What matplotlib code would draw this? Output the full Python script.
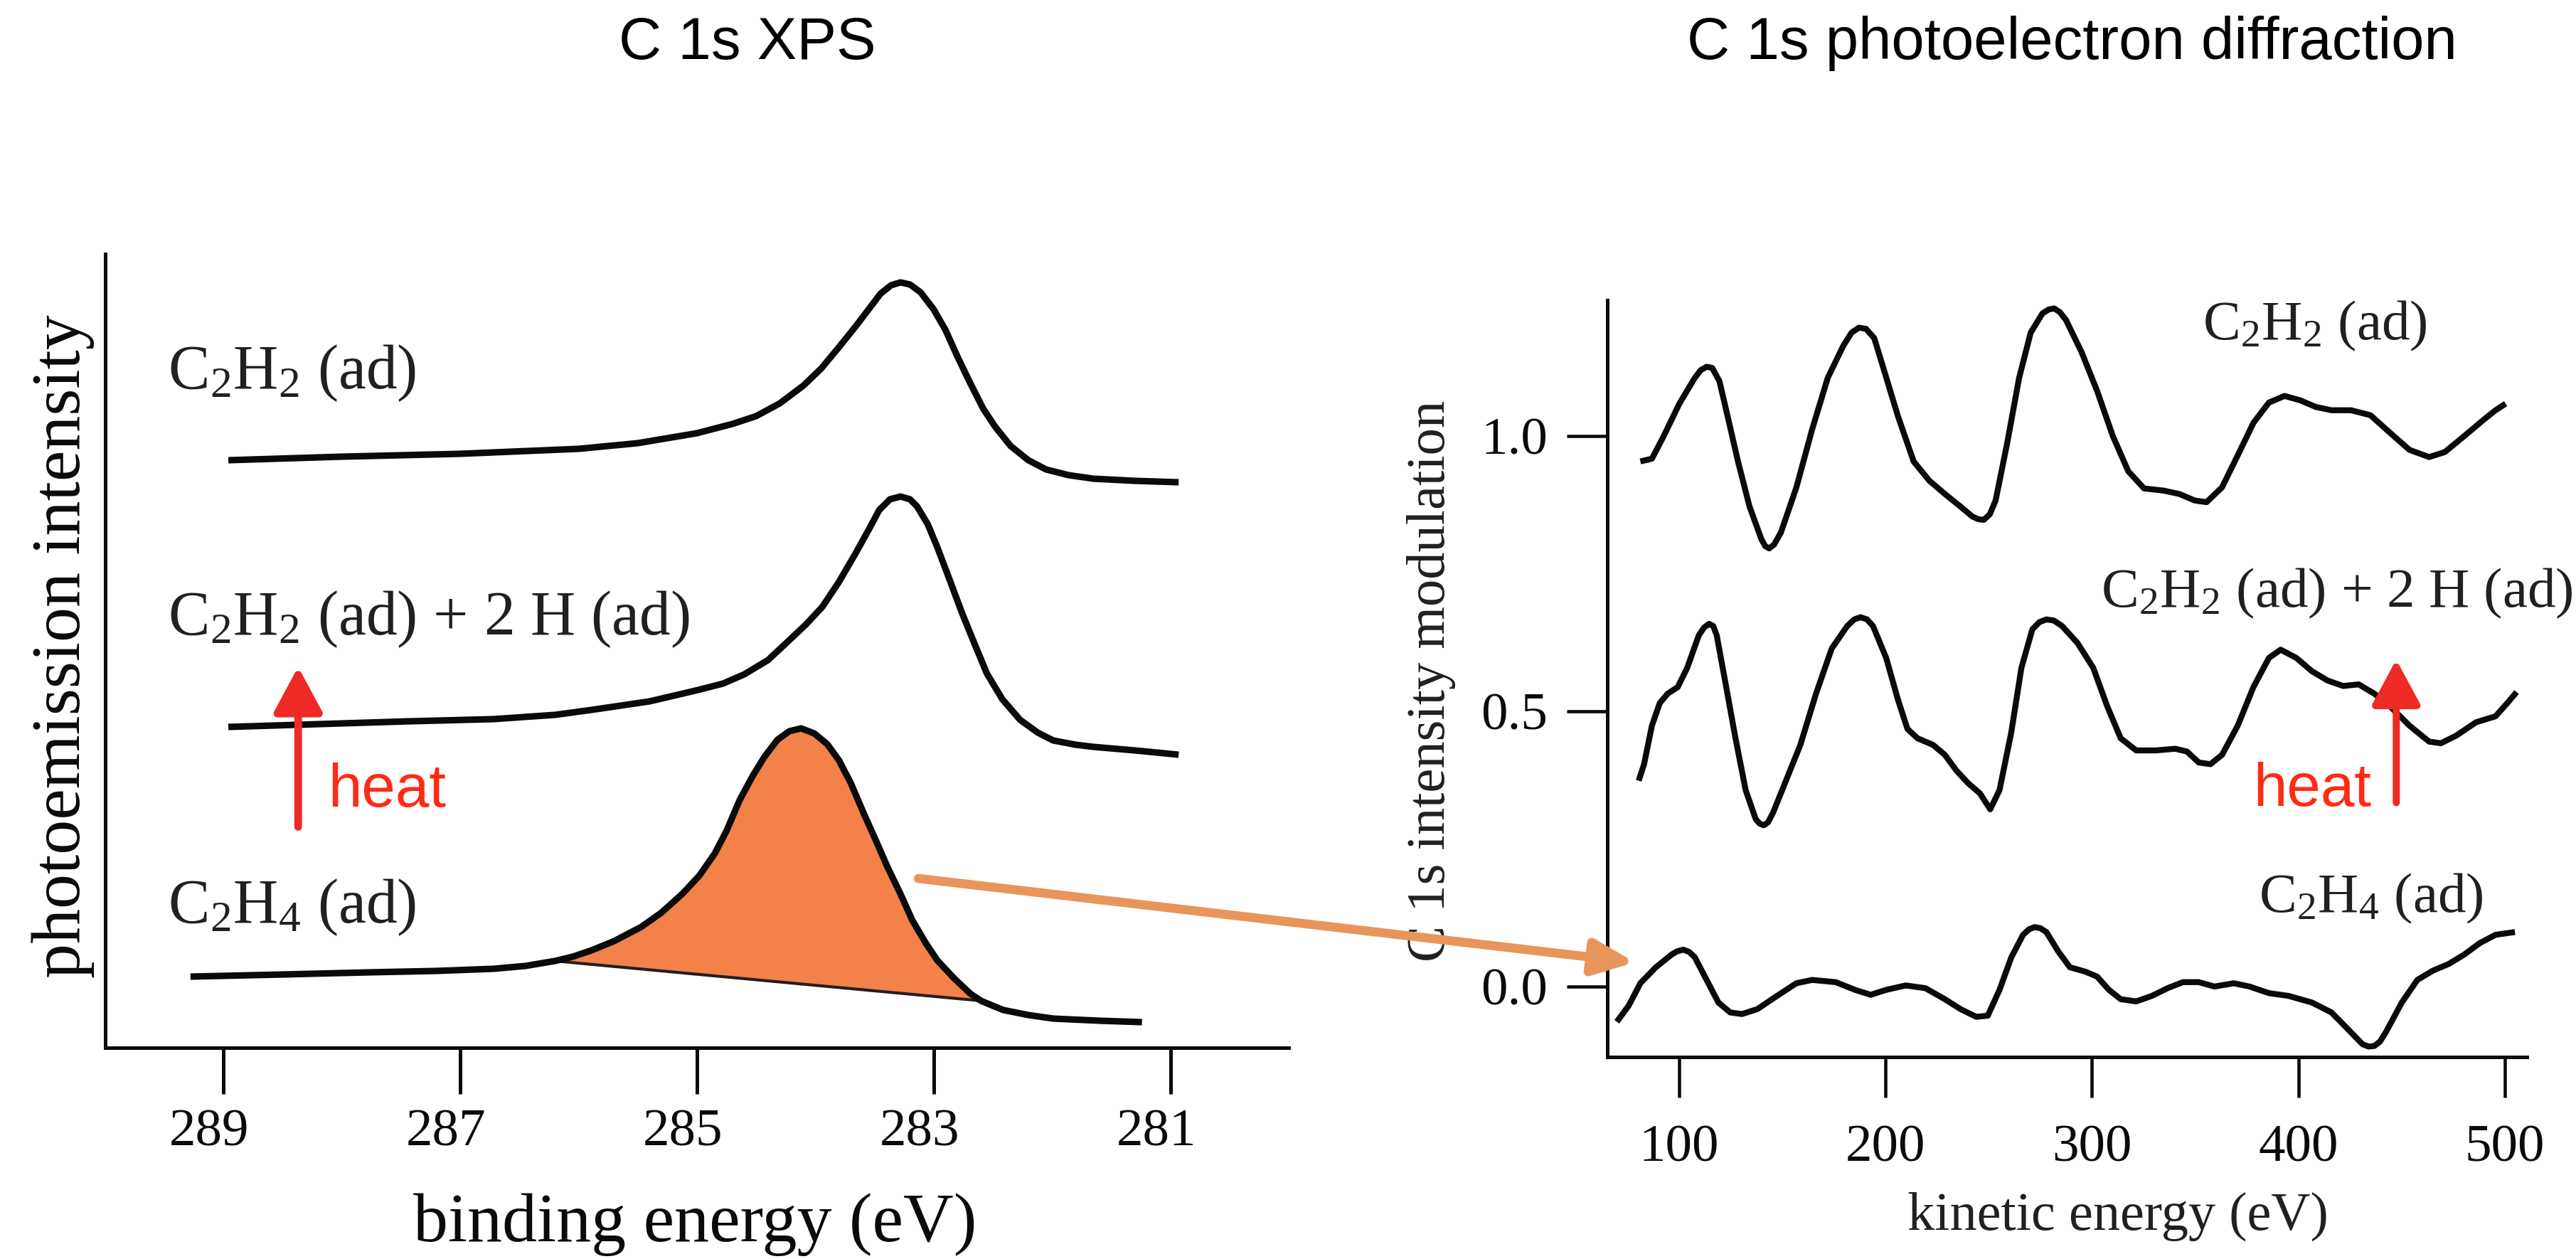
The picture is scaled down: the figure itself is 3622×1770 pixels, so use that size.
import numpy as np
import matplotlib
matplotlib.use("Agg")
import matplotlib.pyplot as plt
from matplotlib.patches import ConnectionPatch, ArrowStyle
from matplotlib.transforms import ScaledTranslation

# ------------------------------------------------------------------ data
panel_titles = ["C 1s XPS", "C 1s photoelectron diffraction"]

# XPS (left): binding energy (eV) vs intensity (arb. units)
be_c2h2 = [288.96, 288.0, 287.0, 286.0, 285.5, 285.0, 284.7, 284.5, 284.3, 284.1,
           283.95, 283.8, 283.66, 283.55, 283.45, 283.36, 283.28, 283.20, 283.11, 283.0,
           282.90, 282.80, 282.69, 282.58, 282.48, 282.35, 282.20, 282.05, 281.86, 281.65,
           281.3, 280.93]
int_c2h2 = [8.26, 8.31, 8.35, 8.42, 8.50, 8.64, 8.77, 8.88, 9.06, 9.31,
            9.55, 9.85, 10.14, 10.38, 10.60, 10.72, 10.76, 10.73, 10.62, 10.38,
            10.09, 9.72, 9.34, 8.98, 8.73, 8.46, 8.26, 8.13, 8.05, 8.00,
            7.97, 7.95]

be_c2h2_h = [288.96, 288.0, 287.42, 286.72, 286.2, 285.89, 285.4, 284.99, 284.78, 284.6,
             284.40, 284.22, 284.08, 283.94, 283.80, 283.66, 283.55, 283.46, 283.37, 283.28,
             283.20, 283.14, 283.05, 282.97, 282.87, 282.76, 282.65, 282.55, 282.42, 282.27,
             282.12, 281.99, 281.80, 281.65, 281.30, 280.93]
int_c2h2_h = [4.51, 4.56, 4.59, 4.62, 4.68, 4.75, 4.87, 5.03, 5.12, 5.25,
              5.45, 5.73, 5.95, 6.20, 6.55, 6.95, 7.28, 7.56, 7.71, 7.75,
              7.71, 7.61, 7.36, 7.04, 6.60, 6.11, 5.66, 5.26, 4.90, 4.61,
              4.43, 4.32, 4.26, 4.23, 4.18, 4.12]

be_c2h4 = [289.28, 288.5, 287.77, 287.2, 286.72, 286.45, 286.20, 286.05, 285.89, 285.70,
           285.47, 285.30, 285.12, 284.98, 284.85, 284.75, 284.64, 284.53, 284.43, 284.32,
           284.22, 284.12, 284.01, 283.90, 283.80, 283.70, 283.59, 283.49, 283.39, 283.28,
           283.18, 283.07, 282.97, 282.83, 282.69, 282.60, 282.50, 282.41, 282.20, 281.99,
           281.60, 281.24]
int_c2h4 = [1.00, 1.03, 1.06, 1.08, 1.11, 1.15, 1.22, 1.28, 1.37, 1.50,
            1.70, 1.90, 2.17, 2.42, 2.73, 3.05, 3.48, 3.82, 4.09, 4.33,
            4.45, 4.49, 4.42, 4.27, 4.04, 3.72, 3.29, 2.92, 2.54, 2.16,
            1.79, 1.48, 1.23, 0.98, 0.76, 0.66, 0.59, 0.53, 0.46, 0.41,
            0.38, 0.36]

# linear background under the C2H4 peak
bg_be = [286.20, 282.60]
bg_int = [1.22, 0.66]

xps_ticks = [289, 287, 285, 283, 281]

# Photoelectron diffraction (right): kinetic energy (eV) vs modulation
ke_c2h2 = [81.2, 86.8, 92.5, 100.1, 107.6, 110.5, 113.3, 116.0, 119.5, 122.8, 128.5, 134.1,
           139.8, 141.7, 143.6, 146.0, 149.3, 156.8, 164.4, 172.0, 179.5, 183.5, 187.1, 190.5,
           194.5, 198.5, 206.0, 213.6, 221.2, 228.7, 236.3, 242.0, 245.0, 247.6, 250.5, 253.3,
           259.0, 264.7, 270.3, 276.0, 279.0, 281.7, 284.5, 287.4, 294.9, 302.5, 310.1, 317.6,
           325.2, 334.7, 342.2, 349.8, 355.5, 363.0, 370.6, 378.2, 385.7, 393.3, 400.9, 408.4,
           416.0, 425.5, 434.9, 444.4, 453.8, 463.3, 470.9, 480.3, 489.8, 495.5, 500.4]
mod_c2h2 = [0.954, 0.959, 1.000, 1.059, 1.106, 1.120, 1.126, 1.124, 1.100, 1.047, 0.954, 0.872,
            0.813, 0.800, 0.796, 0.803, 0.825, 0.907, 1.012, 1.106, 1.164, 1.188, 1.197, 1.195,
            1.178, 1.129, 1.036, 0.954, 0.919, 0.895, 0.872, 0.854, 0.849, 0.848, 0.858, 0.883,
            0.989, 1.106, 1.188, 1.223, 1.230, 1.232, 1.225, 1.211, 1.153, 1.082, 1.000, 0.936,
            0.905, 0.901, 0.895, 0.883, 0.880, 0.907, 0.965, 1.024, 1.061, 1.073, 1.065, 1.053,
            1.047, 1.047, 1.038, 1.006, 0.975, 0.962, 0.971, 1.000, 1.030, 1.047, 1.059]

ke_c2h2_h = [80.4, 83.0, 86.8, 90.6, 94.4, 99.3, 103.9, 109.5, 112.0, 114.5, 116.5, 118.2,
             122.8, 127.3, 132.2, 137.1, 139.0, 140.9, 143.0, 145.5, 151.2, 158.7, 166.3, 173.9,
             181.4, 184.8, 187.9, 191.0, 193.9, 200.3, 206.0, 210.6, 215.5, 223.0, 228.7, 234.4,
             240.1, 245.7, 250.7, 255.2, 260.9, 265.8, 271.1, 274.5, 277.9, 281.5, 285.5, 293.0,
             300.6, 307.4, 313.9, 321.4, 330.9, 340.3, 346.0, 351.7, 357.4, 363.0,
             370.6, 378.2, 385.7, 391.4, 399.0, 406.5, 414.1, 421.7, 429.2, 436.8,
             444.4, 453.8, 463.3, 469.0, 476.5, 486.0, 495.5, 501.2, 505.7]
mod_c2h2_h = [0.374, 0.404, 0.474, 0.515, 0.532, 0.544, 0.579, 0.638, 0.652, 0.659, 0.655, 0.638,
              0.544, 0.451, 0.357, 0.304, 0.296, 0.293, 0.298, 0.316, 0.369, 0.439, 0.532, 0.614,
              0.655, 0.667, 0.671, 0.667, 0.655, 0.597, 0.521, 0.468, 0.451, 0.439, 0.421, 0.392,
              0.369, 0.351, 0.322, 0.357, 0.462, 0.579, 0.649, 0.662, 0.667, 0.665, 0.655, 0.624,
              0.579, 0.509, 0.451, 0.429, 0.429, 0.432, 0.427, 0.407, 0.404, 0.421,
              0.474, 0.544, 0.597, 0.612, 0.597, 0.573, 0.556, 0.546, 0.549, 0.532,
              0.509, 0.474, 0.445, 0.442, 0.456, 0.480, 0.491, 0.515, 0.535]

ke_c2h4 = [69.8, 75.5, 81.2, 88.7, 96.3, 99.0, 102.0, 104.8, 107.6, 113.3, 119.0, 124.7,
           130.4, 137.9, 147.4, 156.8, 164.4, 175.8, 185.2, 192.8, 200.3, 209.8,
           219.3, 228.7, 236.3, 243.9, 249.5, 255.2, 260.9, 266.6, 269.5, 272.2, 275.0, 277.9,
           283.6, 289.3, 296.8, 302.5, 308.2, 313.9, 321.4, 329.0, 336.6, 344.1,
           351.7, 359.3, 368.7, 376.3, 385.7, 395.2, 406.5, 416.0, 423.6, 431.1,
           434.0, 436.8, 439.5, 442.5, 450.1, 457.6, 465.2, 472.8, 480.3, 487.9, 495.5, 504.9]
mod_c2h4 = [-0.064, -0.035, 0.006, 0.035, 0.058, 0.064, 0.067, 0.063, 0.053, 0.012, -0.029, -0.047,
            -0.050, -0.041, -0.017, 0.006, 0.012, 0.008, -0.006, -0.015, -0.006, 0.002,
            -0.003, -0.023, -0.041, -0.055, -0.053, -0.006, 0.053, 0.094, 0.104, 0.108, 0.106, 0.099,
            0.064, 0.035, 0.027, 0.018, -0.006, -0.023, -0.027, -0.017, -0.003, 0.008,
            0.008, 0.000, 0.006, 0.000, -0.012, -0.017, -0.029, -0.047, -0.076, -0.105,
            -0.109, -0.108, -0.100, -0.082, -0.029, 0.012, 0.029, 0.041, 0.058, 0.079, 0.094, 0.099]

ped_xticks = [100, 200, 300, 400, 500]
ped_yticks = [0.0, 0.5, 1.0]
ped_yticklabels = ["0.0", "0.5", "1.0"]

label_c2h2 = r"C$_2$H$_2$ (ad)"
label_c2h2_h = r"C$_2$H$_2$ (ad) + 2 H (ad)"
label_c2h4 = r"C$_2$H$_4$ (ad)"

# ------------------------------------------------------------------ style
plt.rcParams["font.family"] = ["Liberation Serif", "DejaVu Serif"]
plt.rcParams["mathtext.fontset"] = "custom"
plt.rcParams["mathtext.rm"] = "Liberation Serif"
plt.rcParams["mathtext.default"] = "regular"

W, H, DPI = 3622, 1770, 300
fig = plt.figure(figsize=(W / DPI, H / DPI), dpi=DPI)
fig.patch.set_facecolor("white")

def fx(px):
    return px / W

def fy(py):
    return 1 - py / H

axL = fig.add_axes([fx(148), fy(1473), (1812 - 148) / W, (1473 - 357) / H])
axR = fig.add_axes([fx(2260), fy(1486), (3553 - 2260) / W, (1486 - 422) / H])

BLACK = "#0a0a0a"
ORANGE_FILL = "#F3814A"
ORANGE_ARROW = "#E8955C"
RED = "#EE2A24"
RED_TEXT = "#FF2A14"
SANS = ["Liberation Sans", "DejaVu Sans"]

for ax in (axL, axR):
    for s in ("top", "right"):
        ax.spines[s].set_visible(False)
    for s in ("left", "bottom"):
        ax.spines[s].set_linewidth(1.2)
        ax.spines[s].set_color(BLACK)
    ax.set_facecolor("none")

# ---- left panel
axL.set_xlim(290, 280)
axL.set_ylim(0, 11.16)
axL.set_xticks(xps_ticks)
axL.set_xticklabels([str(t) for t in xps_ticks])
axL.set_yticks([])
axL.tick_params(axis="x", direction="out", length=15.6, width=1.2, pad=5,
                labelsize=18, colors=BLACK)
off = ScaledTranslation(-20 / DPI, 0, fig.dpi_scale_trans)
for lab in axL.get_xticklabels():
    lab.set_transform(lab.get_transform() + off)

# fill under C2H4 peak
be4 = np.array(be_c2h4)
in4 = np.array(int_c2h4)
m = (be4 < bg_be[0]) & (be4 > bg_be[1])
poly_x = np.concatenate([[bg_be[0]], be4[m], [bg_be[1]]])
poly_y = np.concatenate([[bg_int[0]], in4[m], [bg_int[1]]])
axL.fill(poly_x, poly_y, facecolor=ORANGE_FILL, edgecolor="#231f20", lw=1.0, zorder=2)

lw_curve = 2.2
for x, y in ((be_c2h2, int_c2h2), (be_c2h2_h, int_c2h2_h), (be_c2h4, int_c2h4)):
    axL.plot(x, y, color=BLACK, lw=lw_curve, solid_joinstyle="round",
             solid_capstyle="butt", zorder=3)

axL.text(289.47, 9.27, label_c2h2, fontsize=21, va="baseline", ha="left", color="#231f20")
axL.text(289.47, 5.805, label_c2h2_h, fontsize=21, va="baseline", ha="left", color="#231f20")
axL.text(289.47, 1.764, label_c2h4, fontsize=21, va="baseline", ha="left", color="#231f20")

head = ArrowStyle("-|>", head_length=13.0, head_width=7.0)
axL.annotate("", xy=(288.37, 5.355), xytext=(288.37, 3.105),
             arrowprops=dict(arrowstyle=head, color=RED, lw=2.6,
                             shrinkA=0, shrinkB=0, mutation_scale=1))
axL.text(288.12, 3.39, "heat", fontsize=20.5, family=SANS, color=RED_TEXT,
         ha="left", va="baseline")

# ---- right panel
axR.set_xlim(65.2, 510.7)
axR.set_ylim(-0.128, 1.247)
axR.set_xticks(ped_xticks)
axR.set_xticklabels([str(t) for t in ped_xticks])
axR.set_yticks(ped_yticks)
axR.set_yticklabels(ped_yticklabels)
axR.tick_params(axis="x", direction="out", length=13.7, width=1.1, pad=9.0,
                labelsize=18, colors=BLACK)
axR.tick_params(axis="y", direction="out", length=13.7, width=1.1, pad=6.5,
                labelsize=18, colors=BLACK)

for x, y in ((ke_c2h2, mod_c2h2), (ke_c2h2_h, mod_c2h2_h), (ke_c2h4, mod_c2h4)):
    axR.plot(x, y, color=BLACK, lw=2.0, solid_joinstyle="round",
             solid_capstyle="butt", zorder=3)

axR.text(353.6, 1.176, label_c2h2, fontsize=19, va="baseline", ha="left", color="#231f20")
axR.text(304.3, 0.690, label_c2h2_h, fontsize=19, va="baseline", ha="left", color="#231f20")
axR.text(380.8, 0.135, label_c2h4, fontsize=19, va="baseline", ha="left", color="#231f20")

axR.annotate("", xy=(447.4, 0.594), xytext=(447.4, 0.334),
             arrowprops=dict(arrowstyle=head, color=RED, lw=2.4,
                             shrinkA=0, shrinkB=0, mutation_scale=1))
axR.text(378.0, 0.328, "heat", fontsize=20.5, family=SANS, color=RED_TEXT,
         ha="left", va="baseline")

# ---- axis labels and titles (figure text)
fig.text(fx(977), fy(1722), "binding energy (eV)", fontsize=23.5, ha="center",
         va="center", color=BLACK)
fig.text(fx(89), fy(909), "photoemission intensity", fontsize=23.5, rotation=90,
         ha="center", va="center", color=BLACK)
fig.text(fx(2978), fy(1710), "kinetic energy (eV)", fontsize=18.3, ha="center",
         va="center", color="#231f20")
fig.text(fx(2012), fy(957), "C 1s intensity modulation", fontsize=18.4, rotation=90,
         ha="center", va="center", color="#231f20")

fig.text(fx(1051), fy(83), panel_titles[0], fontsize=20, family=SANS,
         ha="center", va="baseline", color="black")
fig.text(fx(2913), fy(83), panel_titles[1], fontsize=20, family=SANS,
         ha="center", va="baseline", color="black")

# ---- orange connector arrow from XPS peak to C2H4 diffraction curve
con = ConnectionPatch(xyA=(283.13, 2.38), coordsA=axL.transData,
                      xyB=(78.6, 0.044), coordsB=axR.transData,
                      arrowstyle=ArrowStyle("-|>", head_length=11.5, head_width=5.0),
                      mutation_scale=1, lw=3.05, color=ORANGE_ARROW,
                      shrinkA=0, shrinkB=0, zorder=10)
fig.add_artist(con)

fig.savefig("out.png", dpi=DPI, facecolor="white")
